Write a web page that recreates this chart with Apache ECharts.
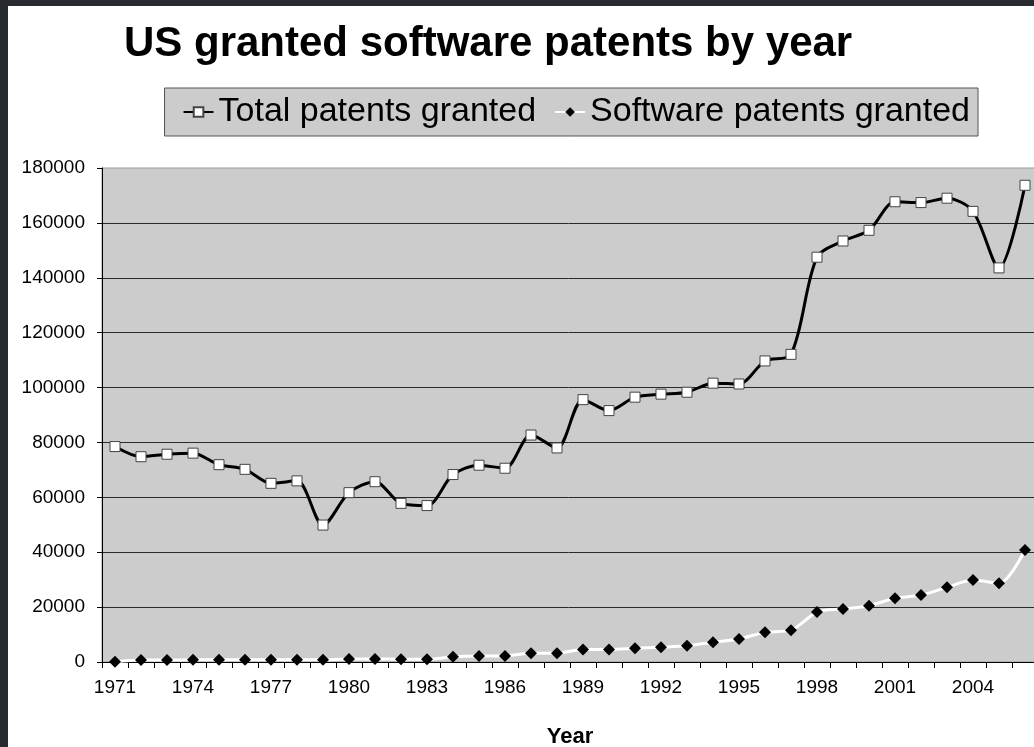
<!DOCTYPE html>
<html>
<head>
<meta charset="utf-8">
<title>US granted software patents by year</title>
<script src="https://cdn.jsdelivr.net/npm/echarts@6/dist/echarts.min.js"></script>
<style>
  html, body { margin: 0; padding: 0; background: #272b2f; }
  #chart { position: absolute; left: 8px; top: 6px; width: 1026px; height: 741px; background: #ffffff; }
</style>
</head>
<body>
<div id="chart"></div>
<script>
// years on the x axis
const years = ['1971', '1972', '1973', '1974', '1975', '1976', '1977', '1978', '1979', '1980',
  '1981', '1982', '1983', '1984', '1985', '1986', '1987', '1988', '1989', '1990',
  '1991', '1992', '1993', '1994', '1995', '1996', '1997', '1998', '1999', '2000',
  '2001', '2002', '2003', '2004', '2005', '2006'];

// total patents granted
const totalPatents = [78500, 74800, 75700, 76100, 71900, 70200, 65100, 66000, 49900, 61700,
  65700, 57800, 57000, 68300, 71700, 70600, 82700, 78000, 95600, 91600,
  96500, 97600, 98300, 101600, 101300, 109700, 112100, 147500, 153400, 157300,
  167700, 167400, 169000, 164200, 143600, 173700];

// software patents granted
const softwarePatents = [100, 700, 700, 800, 800, 800, 800, 800, 800, 1100,
  1100, 1000, 1000, 1900, 2200, 2200, 3200, 3200, 4600, 4600,
  5000, 5400, 5900, 7200, 8400, 10800, 11600, 18200, 19300, 20500,
  23200, 24400, 27200, 29900, 28700, 40800];

const seriesNames = ['Total patents granted', 'Software patents granted'];

const font = '"Liberation Sans", Arial, sans-serif';
const chart = echarts.init(document.getElementById('chart'));

chart.setOption({
  animation: false,
  title: {
    text: 'US granted software patents by year',
    left: 111,
    top: 12,
    textStyle: { fontFamily: font, fontSize: 42, fontWeight: 'bold', color: '#000' }
  },
  legend: {
    data: seriesNames,
    right: 56,
    top: 82,
    backgroundColor: '#cccccc',
    borderColor: '#555555',
    borderWidth: 1,
    borderRadius: 0,
    padding: [7, 8, 7, 18],
    itemGap: 18,
    itemWidth: 30,
    itemHeight: 12,
    textStyle: { fontFamily: font, fontSize: 34, color: '#000' }
  },
  grid: {
    left: 94,
    top: 162,
    width: 936,
    bottom: 85,
    outerBoundsMode: 'none',
    show: true,
    backgroundColor: '#cccccc',
    borderColor: '#9a9a9a',
    borderWidth: 1
  },
  xAxis: {
    type: 'category',
    data: years,
    boundaryGap: true,
    name: 'Year',
    nameLocation: 'middle',
    nameGap: 64,
    nameTextStyle: { fontFamily: font, fontSize: 22, fontWeight: 'bold', color: '#000' },
    axisLine: { lineStyle: { color: '#000', width: 1 } },
    axisTick: { show: true, interval: 0, length: 6, alignWithLabel: false, lineStyle: { color: '#000' } },
    axisLabel: { interval: 2, margin: 16, fontFamily: font, fontSize: 19, color: '#000' },
    splitLine: { show: false }
  },
  yAxis: {
    type: 'value',
    min: 0,
    max: 180000,
    interval: 20000,
    axisLine: { show: true, lineStyle: { color: '#000', width: 1 } },
    axisTick: { show: true, length: 5, lineStyle: { color: '#000' } },
    axisLabel: {
      margin: 17,
      fontFamily: font,
      fontSize: 19,
      color: '#000',
      formatter: function (v) { return String(v); }
    },
    splitLine: { show: true, showMinLine: false, showMaxLine: false, lineStyle: { color: '#2a2a2a', width: 1 } }
  },
  series: [
    {
      name: seriesNames[0],
      type: 'line',
      data: totalPatents,
      smooth: 0.3,
      symbol: 'rect',
      symbolSize: 10,
      lineStyle: { color: '#000', width: 3 },
      itemStyle: { color: '#ffffff', borderColor: '#444', borderWidth: 1 },
      z: 3
    },
    {
      name: seriesNames[1],
      type: 'line',
      data: softwarePatents,
      smooth: 0.3,
      symbol: 'diamond',
      symbolSize: 12,
      lineStyle: { color: '#ffffff', width: 3 },
      itemStyle: { color: '#000000', borderColor: '#000', borderWidth: 0 },
      z: 3
    }
  ]
});
</script>
</body>
</html>
